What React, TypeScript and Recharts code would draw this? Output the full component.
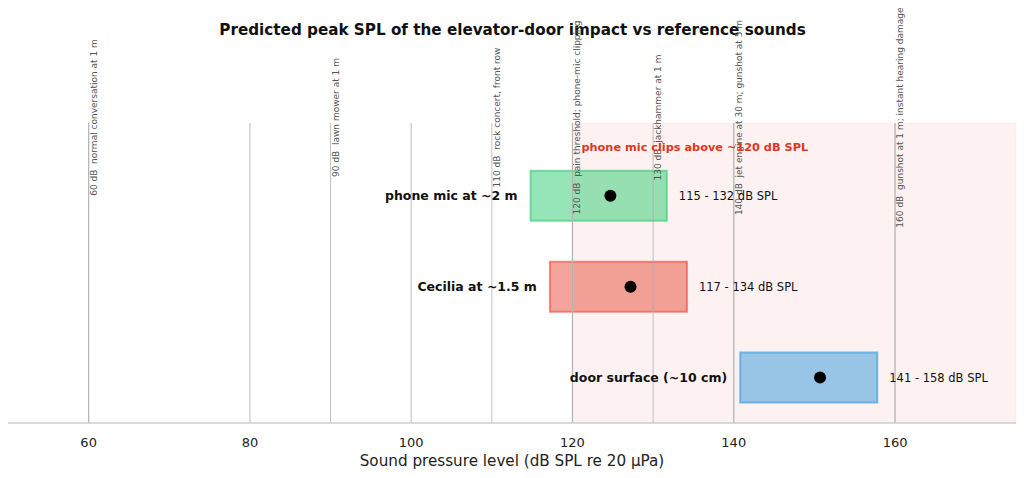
import React from 'react';
import {
  ComposedChart,
  XAxis,
  YAxis,
  ReferenceArea,
  ReferenceLine,
  Scatter,
} from 'recharts';

// rows from bottom (0) to top (2)
const sourceNames = ['door surface (~10 cm)', 'Cecilia at ~1.5 m', 'phone mic at ~2 m'];
const rangeLow = [140.8, 117.2, 114.8];
const rangeHigh = [157.8, 134.2, 131.7];
const peakEstimate = [150.7, 127.2, 124.7];
const boxColors = ['#3498db', '#e74c3c', '#2ecc71'];

const refLevels = [60, 90, 110, 120, 130, 140, 160];
const refNames = [
  'normal conversation at 1 m',
  'lawn mower at 1 m',
  'rock concert, front row',
  'pain threshold; phone-mic clipping',
  'jackhammer at 1 m',
  'jet engine at 30 m; gunshot at 5 m',
  'gunshot at 1 m; instant hearing damage',
];

const xTicks = [60, 80, 100, 120, 140, 160];
const clipLevel = 120;
const clipText = 'phone mic clips above ~120 dB SPL';

const FONT = '"DejaVu Sans", sans-serif';
const BOX_HALF = 0.275;

const peakPoints = peakEstimate.map((v, i) => ({ x: v, y: i }));
const lowPoints = rangeLow.map((v, i) => ({ x: v, y: i, name: sourceNames[i] }));
const highPoints = rangeHigh.map((v, i) => ({
  x: v,
  y: i,
  name: `${Math.round(rangeLow[i])} - ${Math.round(v)} dB SPL`,
}));

const RefLabel = (text: string) => (props: any) => {
  const { x, y } = props.viewBox;
  const tx = x + 8;
  const ty = y - 5.5;
  return (
    <text
      x={tx}
      y={ty}
      transform={`rotate(-90 ${tx} ${ty})`}
      textAnchor="middle"
      fontSize={9}
      fontFamily={FONT}
      fill="#555"
      style={{ whiteSpace: 'pre' }}
    >
      {text}
    </text>
  );
};

const ClipLabel = (props: any) => {
  const { x, y } = props.viewBox;
  return (
    <text x={x + 9} y={y + 28} fontSize={11.3} fontWeight="bold" fontFamily={FONT} fill="#e03524">
      {clipText}
    </text>
  );
};

export default function App() {
  return (
    <div style={{ position: 'absolute', left: 0, top: 0, width: 1024, height: 478, background: '#fff' }}>
      <svg width={1024} height={50} style={{ position: 'absolute', left: 0, top: 0, pointerEvents: 'none' }}>
        <text x={512.5} y={35} textAnchor="middle" fontSize={15.2} fontWeight="bold" fontFamily={FONT} fill="#111">
          Predicted peak SPL of the elevator-door impact vs reference sounds
        </text>
      </svg>
      <ComposedChart width={1024} height={478} margin={{ top: 123, right: 8, bottom: 0, left: 8 }}>
        <XAxis
          type="number"
          dataKey="x"
          domain={[50, 175]}
          ticks={xTicks}
          allowDataOverflow
          height={55}
          tickLine={false}
          tickMargin={9}
          axisLine={{ stroke: '#cccccc', strokeWidth: 1.5 }}
          tick={{ fontSize: 13, fontFamily: FONT, fill: '#222' }}
          label={{
            value: 'Sound pressure level (dB SPL re 20 µPa)',
            position: 'insideBottom',
            offset: 12,
            fontSize: 15.2,
            fontFamily: FONT,
            fill: '#222',
          }}
        />
        <YAxis type="number" dataKey="y" domain={[-0.5, 2.8]} allowDataOverflow hide />
        {/* x grid */}
        {xTicks.map((t) => (
          <ReferenceLine key={`g${t}`} x={t} stroke="#cccccc" strokeWidth={1.3} />
        ))}
        <ReferenceArea x1={clipLevel} x2={175} fill="#e74c3c" fillOpacity={0.07} stroke="#e74c3c" strokeOpacity={0.05} />
        {refLevels.map((lvl, i) => (
          <ReferenceLine
            key={lvl}
            x={lvl}
            stroke="#aaaaaa"
            strokeOpacity={0.7}
            strokeWidth={1}
            label={RefLabel(`${lvl} dB  ${refNames[i]}`)}
          />
        ))}
        <ReferenceLine x={clipLevel} stroke="none" label={ClipLabel} />
        {sourceNames.map((name, i) => (
          <ReferenceArea
            key={name}
            x1={rangeLow[i]}
            x2={rangeHigh[i]}
            y1={i - BOX_HALF}
            y2={i + BOX_HALF}
            fill={boxColors[i]}
            fillOpacity={0.5}
            stroke={boxColors[i]}
            strokeOpacity={0.6}
            strokeWidth={2}
          />
        ))}
        <Scatter
          data={peakPoints}
          isAnimationActive={false}
          shape={(p: any) => <circle cx={p.cx} cy={p.cy} r={6} fill="#000" />}
        />
        <Scatter
          data={lowPoints}
          isAnimationActive={false}
          shape={(p: any) => (
            <text
              x={p.cx - 13}
              y={p.cy}
              dy="0.36em"
              textAnchor="end"
              fontSize={12.5}
              fontWeight="bold"
              fontFamily={FONT}
              fill="#111"
            >
              {p.payload.name}
            </text>
          )}
        />
        <Scatter
          data={highPoints}
          isAnimationActive={false}
          shape={(p: any) => (
            <text x={p.cx + 12} y={p.cy} dy="0.36em" fontSize={11.5} fontFamily={FONT} fill="#111">
              {p.payload.name}
            </text>
          )}
        />
      </ComposedChart>
    </div>
  );
}
